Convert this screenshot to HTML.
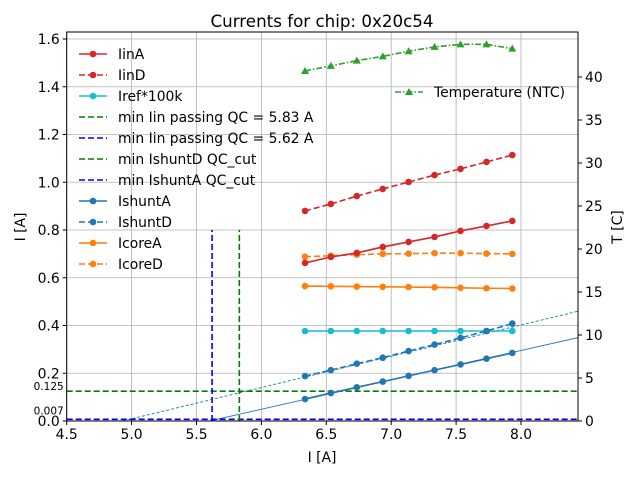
<!DOCTYPE html>
<html><head><meta charset="utf-8"><style>
body{margin:0;background:#fff}
svg{font-family:"DejaVu Sans","Liberation Sans",sans-serif}
</style></head><body>
<svg id="chart" width="640" height="480" viewBox="0 0 640 480"></svg>
<script>
const xVals=[6.336,6.535,6.735,6.935,7.134,7.334,7.534,7.734,7.933];
const iinA=[0.662,0.687,0.704,0.729,0.750,0.771,0.796,0.817,0.838];
const iinD=[0.880,0.909,0.942,0.972,1.001,1.030,1.056,1.085,1.114];
const iref=[0.377,0.377,0.377,0.377,0.377,0.377,0.377,0.377,0.377];
const icoreA=[0.565,0.564,0.563,0.562,0.561,0.560,0.558,0.556,0.555];
const icoreD=[0.688,0.692,0.697,0.700,0.701,0.703,0.703,0.701,0.700];
const ishuntA=[0.092,0.117,0.141,0.165,0.189,0.213,0.237,0.261,0.285];
const ishuntD=[0.188,0.213,0.240,0.265,0.293,0.320,0.348,0.377,0.408];
const temp=[40.7,41.3,41.9,42.4,43.0,43.5,43.8,43.8,43.3];
const xTicks=[4.5,5.0,5.5,6.0,6.5,7.0,7.5,8.0];
const yTicks=[0.0,0.2,0.4,0.6,0.8,1.0,1.2,1.4,1.6];
const tTicks=[0,5,10,15,20,25,30,35,40];
const qcA=5.62, qcD=5.83, cutD=0.125, cutA=0.007, vTop=0.8;
const fitA=[5.60,0.123], fitD=[4.93,0.131];

const L=66.7,R=578,T=32,B=421;
const FS=13.9;
const X=v=>L+(v-4.5)*129.8;
const Y=v=>B-v*238.75;
const YT=v=>B-v*8.6;
const svg=document.getElementById('chart');
const NS='http://www.w3.org/2000/svg';
function mk(tag,attrs,parent){const e=document.createElementNS(NS,tag);for(const k in attrs)e.setAttribute(k,attrs[k]);(parent||svg).appendChild(e);return e;}
function txt(s,attrs){const e=mk('text',attrs);e.textContent=s;return e;}

xTicks.forEach(v=>{const g=mk('line',{x1:X(v),x2:X(v),y1:T,y2:B,stroke:'#b0b0b0','stroke-width':0.8});

});
yTicks.forEach(v=>{const g=mk('line',{x1:L,x2:R,y1:Y(v),y2:Y(v),stroke:'#b0b0b0','stroke-width':0.8});

});

const clip=mk('clipPath',{id:'pc'});mk('rect',{x:L,y:T,width:R-L,height:B-T},clip);
const plot=mk('g',{'clip-path':'url(#pc)'});

function line(x1,y1,x2,y2,color,dash,w,name){const e=mk('line',{x1,y1,x2,y2,stroke:color,'stroke-width':w,'stroke-dasharray':dash||'none'},plot);

}
line(X(fitA[0]),Y(0),X(8.5),Y((8.5-fitA[0])*fitA[1]),'#1f77b4','',0.9,'ishunta-fit-line');
line(X(fitD[0]),Y(0),X(8.5),Y((8.5-fitD[0])*fitD[1]),'#1f77b4','3,2',0.9,'ishuntd-fit-line');
line(L,Y(cutD),R,Y(cutD),'#008000','6,3',1.6,'ishuntd-qc-cut-line');
line(L,Y(cutA),R,Y(cutA),'#0000ff','6,3',1.6,'ishunta-qc-cut-line');
line(X(qcA),Y(0),X(qcA),Y(vTop),'#0000ff','6,3',1.6,'min-iin-qc-a-line');
line(X(qcD),Y(0),X(qcD),Y(vTop),'#008000','6,3',1.6,'min-iin-qc-d-line');

function series(vals,color,dash,name,yf,marker){
  const g=mk('g',{},plot);
  
  
  const pts=vals.map((v,i)=>X(xVals[i])+','+(yf||Y)(v)).join(' ');
  mk('polyline',{points:pts,fill:'none',stroke:color,'stroke-width':1.6,'stroke-dasharray':dash||'none'},g);
  vals.forEach((v,i)=>{const cx=X(xVals[i]),cy=(yf||Y)(v);
    if(marker==='tri')mk('polygon',{points:`${cx},${cy-4} ${cx-4},${cy+3} ${cx+4},${cy+3}`,fill:color},g);
    else mk('circle',{cx,cy,r:3.3,fill:color},g);});
}
series(iref,'#17becf','','series-iref');
series(icoreA,'#ff7f0e','','series-icorea');
series(icoreD,'#ff7f0e','6,3','series-icored');
series(iinA,'#d62728','','series-iina');
series(iinD,'#d62728','6,3','series-iind');
series(ishuntA,'#1f77b4','','series-ishunta');
series(ishuntD,'#1f77b4','6,3','series-ishuntd');
series(temp,'#2ca02c','6,2,1.5,2','series-temperature',YT,'tri');

mk('rect',{x:L,y:T,width:R-L,height:B-T,fill:'none',stroke:'#000','stroke-width':1});

xTicks.forEach(v=>{mk('line',{x1:X(v),x2:X(v),y1:B,y2:B+4,stroke:'#000'});
const t=txt(v.toFixed(1),{x:X(v),y:B+18,'font-size':FS,'text-anchor':'middle'});

});
yTicks.forEach(v=>{mk('line',{x1:L-4,x2:L,y1:Y(v),y2:Y(v),stroke:'#000'});
const t=txt(v.toFixed(1),{x:L-7,y:Y(v)+5,'font-size':FS,'text-anchor':'end'});

});
tTicks.forEach(v=>{mk('line',{x1:R,x2:R+4,y1:YT(v),y2:YT(v),stroke:'#000'});
const t=txt(String(v),{x:R+7,y:YT(v)+5,'font-size':FS});

});
const c1=txt(String(cutD),{x:L-3,y:Y(cutD)-1,'font-size':10.5,'text-anchor':'end'});


const c2=txt(String(cutA),{x:L-3,y:Y(cutA)-5,'font-size':10.5,'text-anchor':'end'});



const leg=[['IinA','#d62728','',1],['IinD','#d62728','6,3',1],['Iref*100k','#17becf','',1],
['min Iin passing QC = 5.83 A','#008000','6,3',0],['min Iin passing QC = 5.62 A','#0000ff','6,3',0],
['min IshuntD QC_cut','#008000','6,3',0],['min IshuntA QC_cut','#0000ff','6,3',0],
['IshuntA','#1f77b4','',1],['IshuntD','#1f77b4','6,3',1],['IcoreA','#ff7f0e','',1],['IcoreD','#ff7f0e','6,3',1]];
leg.forEach((e,i)=>{const y=54+i*21;const g=mk('g',{});


mk('line',{x1:79,x2:107,y1:y,y2:y,stroke:e[1],'stroke-width':1.6,'stroke-dasharray':e[2]||'none'},g);
if(e[3])mk('circle',{cx:93,cy:y,r:3.3,fill:e[1]},g);
const t=mk('text',{x:118,y:y+5,'font-size':FS},g);t.textContent=e[0];});
const tg=mk('g',{});


mk('line',{x1:395,x2:423,y1:92,y2:92,stroke:'#2ca02c','stroke-width':1.6,'stroke-dasharray':'6,2,1.5,2'},tg);
mk('polygon',{points:'409,88 405,95 413,95',fill:'#2ca02c'},tg);
const tt=mk('text',{x:434,y:97,'font-size':FS},tg);tt.textContent='Temperature (NTC)';

const ti=txt('Currents for chip: 0x20c54',{x:322,y:27,'font-size':16.7,'text-anchor':'middle'});


const xl=txt('I [A]',{x:322,y:462,'font-size':FS,'text-anchor':'middle'});


const yl=txt('I [A]',{x:0,y:0,'font-size':FS,'text-anchor':'middle',transform:'translate(25,227) rotate(-90)'});


const tl=txt('T [C]',{x:0,y:0,'font-size':FS,'text-anchor':'middle',transform:'translate(622,227) rotate(-90)'});


</script>
</body></html>
